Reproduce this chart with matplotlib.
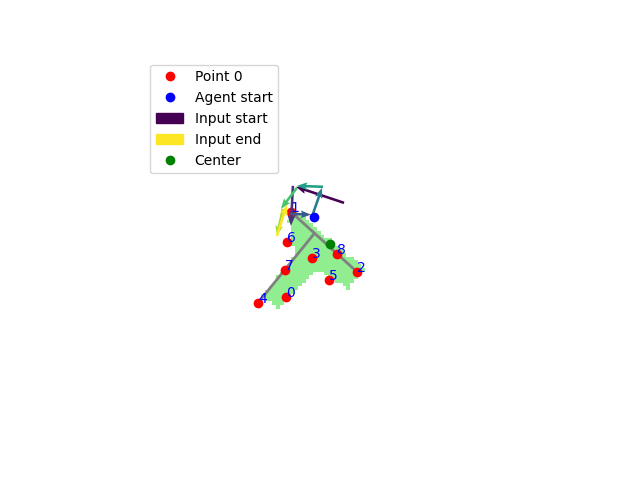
import numpy as np
import matplotlib
matplotlib.use("Agg")
import matplotlib.pyplot as plt
from matplotlib.path import Path
from matplotlib.patches import Patch
from matplotlib.lines import Line2D
from matplotlib.colors import ListedColormap

# Red numbered points
pts_x = [38.62, 39.97, 57.86, 45.66, 31.03, 50.27, 38.89, 38.35, 52.44]
pts_y = [64.77, 41.73, 57.99, 54.20, 66.40, 60.16, 49.86, 57.45, 53.12]
pt_labels = ["0", "1", "2", "3", "4", "5", "6", "7", "8"]

agent_start = (46.21, 43.09)
center = (50.54, 50.41)

# Gray skeleton lines
line_a_x = [39.97, 57.86]
line_a_y = [41.73, 57.99]
line_b_x = [46.21, 31.03]
line_b_y = [47.70, 66.40]

# Shape outline (rasterised onto the grid)
shape_x = [39.97, 41.60, 47.83, 53.79, 59.76, 55.42, 47.02, 36.45, 32.38, 41.60, 40.24, 39.43]
shape_y = [42.01, 41.73, 47.15, 52.03, 57.18, 62.60, 57.45, 68.29, 64.50, 53.12, 50.95, 44.44]
grid_n = 100

# Input arrows (start, end)
arr_x0 = [54.34, 40.51, 39.70, 45.93, 48.64, 41.60, 37.80, 36.18]
arr_y0 = [39.30, 34.69, 42.30, 42.28, 34.96, 35.23, 40.92, 48.24]
arr_x1 = [41.33, 39.97, 45.40, 48.37, 41.60, 37.26, 36.18, 38.89]
arr_y1 = [34.96, 45.53, 42.50, 35.23, 34.69, 40.92, 48.24, 39.80]

fig = plt.figure(figsize=(6.4, 4.8), dpi=100)
ax = fig.add_subplot(111)

# raster shape
gx, gy = np.meshgrid(np.arange(grid_n) + 0.5, np.arange(grid_n) + 0.5)
path = Path(np.column_stack([shape_x, shape_y]))
mask = path.contains_points(np.column_stack([gx.ravel(), gy.ravel()])).reshape(grid_n, grid_n)
ax.imshow(np.where(mask, 1.0, np.nan), cmap=ListedColormap(["lightgreen"]),
          extent=(0, grid_n, grid_n, 0), interpolation="nearest", zorder=0)

ax.plot(line_a_x, line_a_y, color="gray", lw=2, zorder=1)
ax.plot(line_b_x, line_b_y, color="gray", lw=2, zorder=1)

ax.scatter(pts_x, pts_y, color="red", zorder=2)
for x, y, t in zip(pts_x, pts_y, pt_labels):
    ax.text(x, y, t, color="blue", fontsize=10, zorder=5)

cmap = plt.get_cmap("viridis")
cols = cmap(np.linspace(0, 1, len(arr_x0)))
u = np.array(arr_x1) - np.array(arr_x0)
v = np.array(arr_y1) - np.array(arr_y0)
ax.quiver(arr_x0, arr_y0, u, v, color=cols, angles="xy", scale_units="xy", scale=1,
          width=0.007, headlength=4, headaxislength=3.5, headwidth=3, zorder=3)

ax.scatter([agent_start[0]], [agent_start[1]], color="blue", zorder=4)
ax.scatter([center[0]], [center[1]], color="green", zorder=4)

ax.set_xlim(0, 100)
ax.set_ylim(100, 0)
ax.set_aspect("equal")
ax.axis("off")

handles = [
    Line2D([], [], marker="o", ls="", color="red", markersize=6),
    Line2D([], [], marker="o", ls="", color="blue", markersize=6),
    Patch(color=cmap(0.0)),
    Patch(color=cmap(1.0)),
    Line2D([], [], marker="o", ls="", color="green", markersize=6),
]
ax.legend(handles, ["Point 0", "Agent start", "Input start", "Input end", "Center"], loc="upper left")

fig.savefig("out.png", dpi=100)
